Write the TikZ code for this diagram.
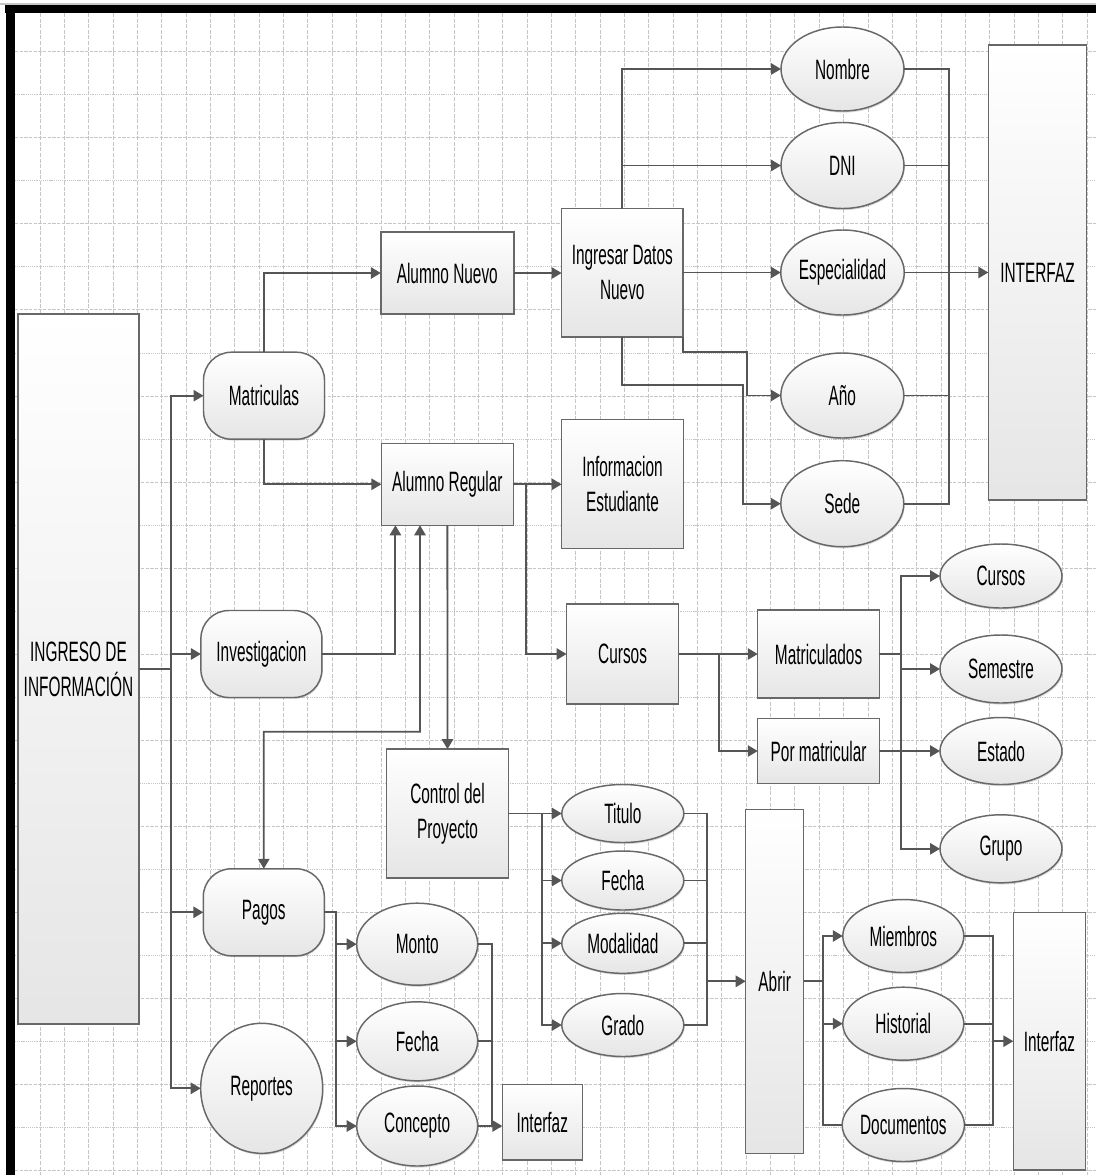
\documentclass[tikz,border=0pt]{standalone}
\usepackage{fontspec}
\setmainfont{Liberation Sans}[FakeStretch=0.55]
\usetikzlibrary{arrows.meta,shapes.geometric,shadows,calc}
\definecolor{linegray}{HTML}{555555}
\definecolor{edgegray}{HTML}{686868}
\definecolor{gridgray}{HTML}{C6C6C6}
\newcommand\lbl{\fontsize{21}{26.2}\selectfont}

\begin{document}
\begin{tikzpicture}[x=0.75pt,y=-0.75pt,
  sz/.style 2 args={minimum width={#1*0.75pt},minimum height={#2*0.75pt}},
  base/.style={draw=edgegray,line width=1.1pt,top color=white,bottom color=black!10,
    inner sep=0pt,outer sep=0pt,align=center,text=black,font=\lbl},
  box/.style={base,rectangle},
  rbox/.style={base,rectangle,rounded corners=21pt,
    drop shadow={shadow xshift=0.6pt,shadow yshift=-1pt,opacity=0.3}},
  oval/.style={base,ellipse,
    drop shadow={shadow xshift=0.6pt,shadow yshift=-1.2pt,opacity=0.3}},
  link/.style={draw=linegray,line width=1.4pt},
  arr/.style={link,-{Triangle[length=7.5pt,width=8.5pt]}},
  arrboth/.style={link,{Triangle[length=7.5pt,width=8.5pt]}-{Triangle[length=7.5pt,width=8.5pt]}},
  gridv/.style={draw=gridgray,line width=0.6pt,dash pattern=on 3pt off 1.2pt},
  gridh/.style={draw=gridgray,line width=0.6pt,dash pattern=on 2.5pt off 1pt},
  gridd/.style={draw=gridgray,line width=0.6pt,dash pattern=on 0.8pt off 0.6pt}]

\useasboundingbox (0,0) rectangle (1096,1175);
\fill[white] (0,0) rectangle (1096,1175);

% background grid
\foreach \k in {0,...,43} \draw[gridv] ({40+24.35*\k},13) -- ({40+24.35*\k},1175);
\foreach \k in {0,2,...,26} \draw[gridh] (15,{51.7+43.03*\k}) -- (1096,{51.7+43.03*\k});
\foreach \k in {1,3,...,25} \draw[gridd] (15,{51.7+43.03*\k}) -- (1096,{51.7+43.03*\k});

% frame
\draw[gray!45,line width=0.8pt] (0,4) -- (1096,4);
\fill[black] (5,5) rectangle (1096,12.7);
\fill[black] (6,5) rectangle (15,1175);

% left column
\node[box,sz={121}{710}] (ingreso) at (78.5,669) {INGRESO DE\\INFORMACIÓN};
\node[rbox,sz={121}{87}] (matric) at (264,395.7) {Matriculas};
\node[rbox,sz={121}{87}] (invest) at (261.4,654) {Investigacion};
\node[rbox,sz={121}{87}] (pagos) at (263.8,912.3) {Pagos};
\node[oval,sz={122}{130}] (reportes) at (261.7,1088.3) {Reportes};

% student branch
\node[box,sz={133}{82}] (alnuevo) at (447.3,273) {Alumno Nuevo};
\node[box,sz={132}{82}] (alregular) at (447.4,484.3) {Alumno Regular};
\node[box,sz={121.4}{128.3}] (ingresar) at (622.3,272.9) {Ingresar Datos\\Nuevo};
\node[box,sz={121.7}{129}] (info) at (622.5,483.8) {Informacion\\Estudiante};
\node[box,sz={112}{100}] (cursos) at (622.6,654) {Cursos};

\node[oval,sz={123}{84}] (nombre) at (842.5,69) {Nombre};
\node[oval,sz={123}{86}] (dni) at (842.5,165.5) {DNI};
\node[oval,sz={123}{85}] (espec) at (842.5,272.5) {Especialidad};
\node[oval,sz={123}{85}] (anio) at (842.3,395.5) {Año};
\node[oval,sz={123}{86}] (sede) at (842.3,503.7) {Sede};
\node[box,sz={98.4}{455}] (interfazA) at (1037.5,272.5) {INTERFAZ};

% courses
\node[box,sz={121.7}{88}] (matricd) at (818.6,654) {Matriculados};
\node[box,sz={121.7}{65}] (pormat) at (818.6,751) {Por matricular};
\node[oval,sz={122}{64}] (ecursos) at (1001,576) {Cursos};
\node[oval,sz={122}{68}] (esem) at (1001,669) {Semestre};
\node[oval,sz={122}{67}] (estado) at (1001,751) {Estado};
\node[oval,sz={122}{68}] (grupo) at (1001,848.8) {Grupo};

% project control
\node[box,sz={121.6}{128.7}] (control) at (447.5,813.5) {Control del\\Proyecto};
\node[oval,sz={122}{58}] (titulo) at (622.8,813.5) {Titulo};
\node[oval,sz={122}{59}] (fechaA) at (622.8,880.5) {Fecha};
\node[oval,sz={122}{60}] (modal) at (622.8,943.3) {Modalidad};
\node[oval,sz={122}{63}] (grado) at (622.8,1025) {Grado};
\node[box,sz={58}{344}] (abrir) at (774.7,981.3) {Abrir};
\node[oval,sz={121}{73}] (miembros) at (903.3,936) {Miembros};
\node[oval,sz={121}{73}] (hist) at (903.3,1023.7) {Historial};
\node[oval,sz={121}{73}] (docs) at (903.3,1125) {Documentos};
\node[box,sz={72.4}{257.7}] (interfazB) at (1049.5,1041.2) {Interfaz};

% payments
\node[oval,sz={121}{82}] (monto) at (417.2,944.2) {Monto};
\node[oval,sz={121}{79}] (fechaB) at (417.2,1041.3) {Fecha};
\node[oval,sz={121}{80}] (concepto) at (417.2,1126) {Concepto};
\node[box,sz={80}{75.7}] (interfazC) at (542.3,1122.2) {Interfaz};

% bus positions
\coordinate (trunk) at (171.2,0);
\coordinate (busR) at (949.3,0);
\coordinate (busC) at (901,0);
\coordinate (busA) at (706.7,0);
\coordinate (busD) at (993.3,0);
\coordinate (busP) at (492.3,0);

% connectors: main trunk
\foreach \t in {matric,invest,pagos,reportes}
  \draw[arr] (ingreso.east) -- (ingreso.east -| trunk) |- (\t.west);

\draw[arr] (matric.north) |- (alnuevo.west);
\draw[arr] (matric.south) |- (alregular.west);

% new student
\draw[arr] (alnuevo.east) -- (alnuevo.east -| ingresar.west);
\draw[arr] (ingresar.north) |- (nombre.west);
\draw[arr] (ingresar.north) |- (dni.west);
\draw[arr] (ingresar.east |- espec.west) -- (espec.west);
\draw[arr] (ingresar.south east) |- (747.4,352) |- (anio.west);
\draw[arr] (ingresar.south) |- (742.6,385) |- (sede.west);
\draw[link] (nombre.east) -| (busR |- sede.east) -- (sede.east);
\foreach \t in {dni,anio} \draw[link] (\t.east) -- (\t.east -| busR);
\draw[arr] (espec.east) -- (espec.east -| interfazA.west);

% regular student
\draw[arr] (invest.east) -| ($(alregular.south west)+(14,0)$);
\draw[arrboth] (pagos.north) |- (420,731.7) -- ($(alregular.south west)+(38.6,0)$);
\draw[arr] (alregular.south) -- (control.north);
\draw[arr] (alregular.east) -- (alregular.east -| info.west);
\draw[arr] (alregular.east) -- ++(13,0) |- (cursos.west);

% courses
\draw[arr] (cursos.east) -- ++(40,0) |- (matricd.west);
\draw[arr] (cursos.east) -- ++(40,0) |- (pormat.west);
\foreach \t in {ecursos,esem,grupo}
  \draw[arr] (matricd.east) -- (matricd.east -| busC) |- (\t.west);
\draw[arr] (pormat.east) -- (estado.west);

% project control
\draw[arr] (control.east) -- (titulo.west);
\foreach \t in {fechaA,modal,grado}
  \draw[arr] (control.east) -- ++(34,0) |- (\t.west);
\draw[link] (titulo.east) -| (busA |- grado.east) -- (grado.east);
\foreach \t in {fechaA,modal} \draw[link] (\t.east) -- (\t.east -| busA);
\draw[arr] (abrir.west -| busA) -- (abrir.west);
\foreach \t in {miembros,hist}
  \draw[arr] (abrir.east) -- ++(19,0) |- (\t.west);
\draw[link] (abrir.east) -- ++(19,0) |- (docs.west);
\draw[link] (miembros.east) -| (busD |- docs.east) -- (docs.east);
\draw[link] (hist.east) -- (hist.east -| busD);
\draw[arr] (interfazB.west -| busD) -- (interfazB.west);

% payments
\foreach \t in {monto,fechaB,concepto}
  \draw[arr] (pagos.east) -- ++(11.4,0) |- (\t.west);
\draw[link] (monto.east) -| (busP |- concepto.east) -- (concepto.east);
\draw[link] (fechaB.east) -- (fechaB.east -| busP);
\draw[arr] (concepto.east) -- (concepto.east -| interfazC.west);

\end{tikzpicture}
\end{document}
